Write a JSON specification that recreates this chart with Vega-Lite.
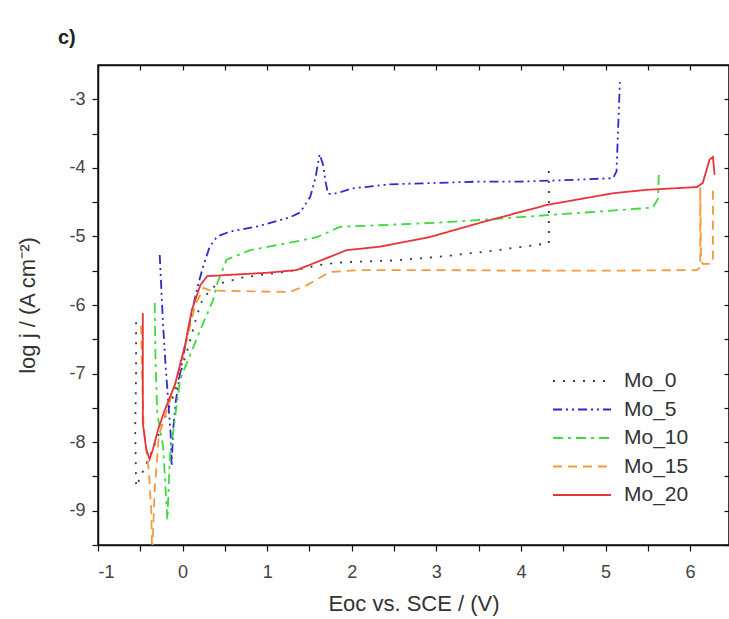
{
  "$schema": "https://vega.github.io/schema/vega-lite/v6.json",
  "autosize": {"type": "none"},
  "padding": {"left": 98, "top": 65, "right": 0, "bottom": 74},
  "width": 631,
  "height": 480,
  "background": "white",
  "config": {
    "font": "Liberation Sans",
    "view": {"stroke": "#111", "strokeWidth": 1.5},
    "axis": {"grid": false, "domainColor": "#111", "domainWidth": 1.5, "tickColor": "#111", "tickWidth": 1.2, "labelColor": "#444", "labelFont": "Liberation Sans", "titleFont": "Liberation Sans", "titleColor": "#333", "titleFontWeight": "normal"}
  },
  "title": {"text": "c)", "anchor": "start", "frame": "group", "dx": -40, "offset": 16, "fontSize": 20, "fontWeight": "bold", "color": "#222", "font": "Liberation Sans"},
  "data": {"values": [
    {"s":"Mo_0","i":1,"x":-0.55,"y":-6.25},{"s":"Mo_0","i":2,"x":-0.55,"y":-7.0},{"s":"Mo_0","i":3,"x":-0.56,"y":-7.8},{"s":"Mo_0","i":4,"x":-0.55,"y":-8.65},{"s":"Mo_0","i":5,"x":-0.35,"y":-8.1},{"s":"Mo_0","i":6,"x":-0.1,"y":-7.3},{"s":"Mo_0","i":7,"x":0.07,"y":-6.6},{"s":"Mo_0","i":8,"x":0.17,"y":-6.15},{"s":"Mo_0","i":9,"x":0.24,"y":-5.9},{"s":"Mo_0","i":10,"x":0.4,"y":-5.7},{"s":"Mo_0","i":11,"x":0.7,"y":-5.6},{"s":"Mo_0","i":12,"x":1.3,"y":-5.5},{"s":"Mo_0","i":13,"x":1.6,"y":-5.42},{"s":"Mo_0","i":14,"x":1.86,"y":-5.38},{"s":"Mo_0","i":15,"x":2.5,"y":-5.35},{"s":"Mo_0","i":16,"x":3.0,"y":-5.3},{"s":"Mo_0","i":17,"x":3.6,"y":-5.22},{"s":"Mo_0","i":18,"x":4.2,"y":-5.12},{"s":"Mo_0","i":19,"x":4.33,"y":-5.1},{"s":"Mo_0","i":20,"x":4.33,"y":-3.97},
    {"s":"Mo_5","i":1,"x":-0.27,"y":-5.27},{"s":"Mo_5","i":2,"x":-0.25,"y":-5.8},{"s":"Mo_5","i":3,"x":-0.23,"y":-6.3},{"s":"Mo_5","i":4,"x":-0.2,"y":-6.9},{"s":"Mo_5","i":5,"x":-0.17,"y":-7.4},{"s":"Mo_5","i":6,"x":-0.14,"y":-7.9},{"s":"Mo_5","i":7,"x":-0.13,"y":-8.35},{"s":"Mo_5","i":8,"x":-0.11,"y":-7.8},{"s":"Mo_5","i":9,"x":-0.08,"y":-7.4},{"s":"Mo_5","i":10,"x":-0.03,"y":-7.0},{"s":"Mo_5","i":11,"x":0.03,"y":-6.6},{"s":"Mo_5","i":12,"x":0.11,"y":-6.1},{"s":"Mo_5","i":13,"x":0.18,"y":-5.72},{"s":"Mo_5","i":14,"x":0.24,"y":-5.45},{"s":"Mo_5","i":15,"x":0.32,"y":-5.15},{"s":"Mo_5","i":16,"x":0.41,"y":-5.0},{"s":"Mo_5","i":17,"x":0.56,"y":-4.93},{"s":"Mo_5","i":18,"x":0.9,"y":-4.85},{"s":"Mo_5","i":19,"x":1.27,"y":-4.72},{"s":"Mo_5","i":20,"x":1.39,"y":-4.65},{"s":"Mo_5","i":21,"x":1.51,"y":-4.42},{"s":"Mo_5","i":22,"x":1.57,"y":-4.15},{"s":"Mo_5","i":23,"x":1.62,"y":-3.8},{"s":"Mo_5","i":24,"x":1.66,"y":-3.95},{"s":"Mo_5","i":25,"x":1.69,"y":-4.2},{"s":"Mo_5","i":26,"x":1.72,"y":-4.38},{"s":"Mo_5","i":27,"x":1.83,"y":-4.37},{"s":"Mo_5","i":28,"x":2.0,"y":-4.3},{"s":"Mo_5","i":29,"x":2.45,"y":-4.24},{"s":"Mo_5","i":30,"x":3.0,"y":-4.22},{"s":"Mo_5","i":31,"x":3.5,"y":-4.2},{"s":"Mo_5","i":32,"x":4.0,"y":-4.2},{"s":"Mo_5","i":33,"x":4.5,"y":-4.18},{"s":"Mo_5","i":34,"x":5.09,"y":-4.15},{"s":"Mo_5","i":35,"x":5.13,"y":-4.05},{"s":"Mo_5","i":36,"x":5.15,"y":-3.4},{"s":"Mo_5","i":37,"x":5.17,"y":-2.75},
    {"s":"Mo_10","i":1,"x":-0.33,"y":-5.97},{"s":"Mo_10","i":2,"x":-0.32,"y":-6.8},{"s":"Mo_10","i":3,"x":-0.3,"y":-7.57},{"s":"Mo_10","i":4,"x":-0.23,"y":-8.07},{"s":"Mo_10","i":5,"x":-0.2,"y":-8.7},{"s":"Mo_10","i":6,"x":-0.18,"y":-9.13},{"s":"Mo_10","i":7,"x":-0.15,"y":-8.21},{"s":"Mo_10","i":8,"x":-0.03,"y":-7.09},{"s":"Mo_10","i":9,"x":0.1,"y":-6.7},{"s":"Mo_10","i":10,"x":0.21,"y":-6.36},{"s":"Mo_10","i":11,"x":0.36,"y":-5.93},{"s":"Mo_10","i":12,"x":0.41,"y":-5.68},{"s":"Mo_10","i":13,"x":0.52,"y":-5.34},{"s":"Mo_10","i":14,"x":0.8,"y":-5.2},{"s":"Mo_10","i":15,"x":1.27,"y":-5.09},{"s":"Mo_10","i":16,"x":1.59,"y":-5.01},{"s":"Mo_10","i":17,"x":1.86,"y":-4.86},{"s":"Mo_10","i":18,"x":2.45,"y":-4.83},{"s":"Mo_10","i":19,"x":3.0,"y":-4.8},{"s":"Mo_10","i":20,"x":3.52,"y":-4.76},{"s":"Mo_10","i":21,"x":4.31,"y":-4.69},{"s":"Mo_10","i":22,"x":5.0,"y":-4.63},{"s":"Mo_10","i":23,"x":5.56,"y":-4.58},{"s":"Mo_10","i":24,"x":5.62,"y":-4.45},{"s":"Mo_10","i":25,"x":5.63,"y":-4.1},
    {"s":"Mo_15","i":1,"x":-0.49,"y":-6.3},{"s":"Mo_15","i":2,"x":-0.48,"y":-7.0},{"s":"Mo_15","i":3,"x":-0.46,"y":-7.8},{"s":"Mo_15","i":4,"x":-0.4,"y":-8.4},{"s":"Mo_15","i":5,"x":-0.37,"y":-9.0},{"s":"Mo_15","i":6,"x":-0.36,"y":-9.7},{"s":"Mo_15","i":7,"x":-0.33,"y":-8.7},{"s":"Mo_15","i":8,"x":-0.28,"y":-7.9},{"s":"Mo_15","i":9,"x":-0.15,"y":-7.4},{"s":"Mo_15","i":10,"x":-0.05,"y":-7.0},{"s":"Mo_15","i":11,"x":0.05,"y":-6.5},{"s":"Mo_15","i":12,"x":0.15,"y":-6.0},{"s":"Mo_15","i":13,"x":0.25,"y":-5.75},{"s":"Mo_15","i":14,"x":0.33,"y":-5.79},{"s":"Mo_15","i":15,"x":0.8,"y":-5.8},{"s":"Mo_15","i":16,"x":1.27,"y":-5.81},{"s":"Mo_15","i":17,"x":1.47,"y":-5.71},{"s":"Mo_15","i":18,"x":1.74,"y":-5.52},{"s":"Mo_15","i":19,"x":2.1,"y":-5.49},{"s":"Mo_15","i":20,"x":3.0,"y":-5.49},{"s":"Mo_15","i":21,"x":4.0,"y":-5.5},{"s":"Mo_15","i":22,"x":5.0,"y":-5.5},{"s":"Mo_15","i":23,"x":6.08,"y":-5.49},{"s":"Mo_15","i":24,"x":6.12,"y":-5.45},{"s":"Mo_15","i":25,"x":6.12,"y":-4.28},{"s":"Mo_15","i":26,"x":6.13,"y":-5.36},{"s":"Mo_15","i":27,"x":6.15,"y":-5.4},{"s":"Mo_15","i":28,"x":6.25,"y":-5.4},{"s":"Mo_15","i":29,"x":6.27,"y":-5.36},{"s":"Mo_15","i":30,"x":6.27,"y":-4.28},
    {"s":"Mo_20","i":1,"x":-0.47,"y":-6.12},{"s":"Mo_20","i":2,"x":-0.47,"y":-6.9},{"s":"Mo_20","i":3,"x":-0.47,"y":-7.72},{"s":"Mo_20","i":4,"x":-0.43,"y":-8.1},{"s":"Mo_20","i":5,"x":-0.39,"y":-8.25},{"s":"Mo_20","i":6,"x":-0.35,"y":-8.1},{"s":"Mo_20","i":7,"x":-0.29,"y":-7.82},{"s":"Mo_20","i":8,"x":-0.21,"y":-7.53},{"s":"Mo_20","i":9,"x":-0.09,"y":-7.16},{"s":"Mo_20","i":10,"x":0.03,"y":-6.58},{"s":"Mo_20","i":11,"x":0.11,"y":-6.07},{"s":"Mo_20","i":12,"x":0.21,"y":-5.71},{"s":"Mo_20","i":13,"x":0.29,"y":-5.58},{"s":"Mo_20","i":14,"x":0.56,"y":-5.56},{"s":"Mo_20","i":15,"x":1.0,"y":-5.53},{"s":"Mo_20","i":16,"x":1.35,"y":-5.49},{"s":"Mo_20","i":17,"x":1.94,"y":-5.2},{"s":"Mo_20","i":18,"x":2.33,"y":-5.15},{"s":"Mo_20","i":19,"x":2.92,"y":-5.01},{"s":"Mo_20","i":20,"x":3.52,"y":-4.8},{"s":"Mo_20","i":21,"x":4.31,"y":-4.54},{"s":"Mo_20","i":22,"x":5.09,"y":-4.37},{"s":"Mo_20","i":23,"x":5.49,"y":-4.32},{"s":"Mo_20","i":24,"x":6.08,"y":-4.28},{"s":"Mo_20","i":25,"x":6.15,"y":-4.22},{"s":"Mo_20","i":26,"x":6.23,"y":-3.88},{"s":"Mo_20","i":27,"x":6.27,"y":-3.84},{"s":"Mo_20","i":28,"x":6.29,"y":-4.1}
  ]},
  "layer": [
    {
      "mark": {"type": "line", "clip": true, "strokeCap": "butt"},
      "encoding": {
        "x": {"field": "x", "type": "quantitative", "scale": {"domain": [-1, 6.46], "nice": false, "zero": false},
          "axis": {"orient": "bottom", "title": "Eoc vs. SCE / (V)", "values": [-1,-0.5,0,0.5,1,1.5,2,2.5,3,3.5,4,4.5,5,5.5,6], "labelExpr": "datum.value % 1 === 0 ? replace(format(datum.value, 'd'), '−', '-') : ''", "tickSize": 6, "labelFontSize": 18, "labelPadding": 12, "titleFontSize": 22, "titlePadding": 12}},
        "y": {"field": "y", "type": "quantitative", "scale": {"domain": [-9.5, -2.5], "nice": false, "zero": false},
          "axis": {"orient": "left", "title": "log j / (A cm⁻²)", "values": [-9.5,-9,-8.5,-8,-7.5,-7,-6.5,-6,-5.5,-5,-4.5,-4,-3.5,-3], "labelExpr": "datum.value % 1 === 0 ? replace(format(datum.value, 'd'), '−', '-') : ''", "tickSize": 6, "labelFontSize": 18, "labelPadding": 7, "titleFontSize": 22, "titlePadding": 29}},
        "order": {"field": "i", "type": "quantitative"},
        "color": {"field": "s", "type": "nominal", "sort": ["Mo_0","Mo_5","Mo_10","Mo_15","Mo_20"],
          "scale": {"domain": ["Mo_0","Mo_5","Mo_10","Mo_15","Mo_20"], "range": ["#3a3a3a", "#2b2bd0", "#3ddc3d", "#f39a3c", "#e8333a"]},
          "legend": {"title": null, "orient": "none", "legendX": 473, "legendY": 305, "symbolType": "M-3,0H3", "symbolSize": 374, "symbolStrokeWidth": 2, "labelFontSize": 21, "labelColor": "#333", "rowPadding": 7.5, "labelOffset": 31}},
        "strokeDash": {"field": "s", "type": "nominal", "sort": ["Mo_0","Mo_5","Mo_10","Mo_15","Mo_20"],
          "scale": {"domain": ["Mo_0","Mo_5","Mo_10","Mo_15","Mo_20"], "range": [[2,8],[9,4,2,4,2,4],[10,5,3,5],[9,6],[1,0]]},
          "legend": {"title": null, "orient": "none", "legendX": 473, "legendY": 305, "symbolType": "M-3,0H3", "symbolSize": 374, "symbolStrokeWidth": 2, "labelFontSize": 21, "labelColor": "#333", "rowPadding": 7.5, "labelOffset": 31}},
        "strokeWidth": {"value": 1.8}
      }
    },
    {
      "mark": {"type": "point", "opacity": 0},
      "encoding": {
        "x": {"field": "x", "type": "quantitative", "scale": {"domain": [-1, 6.46], "nice": false, "zero": false},
          "axis": {"orient": "top", "title": null, "labels": false, "values": [-1,-0.5,0,0.5,1,1.5,2,2.5,3,3.5,4,4.5,5,5.5,6], "tickSize": -5}},
        "y": {"field": "y", "type": "quantitative", "scale": {"domain": [-9.5, -2.5], "nice": false, "zero": false},
          "axis": {"orient": "right", "title": null, "labels": false, "values": [-9.5,-9,-8.5,-8,-7.5,-7,-6.5,-6,-5.5,-5,-4.5,-4,-3.5,-3], "tickSize": -5}}
      }
    }
  ],
  "resolve": {"axis": {"x": "independent", "y": "independent"}}
}
